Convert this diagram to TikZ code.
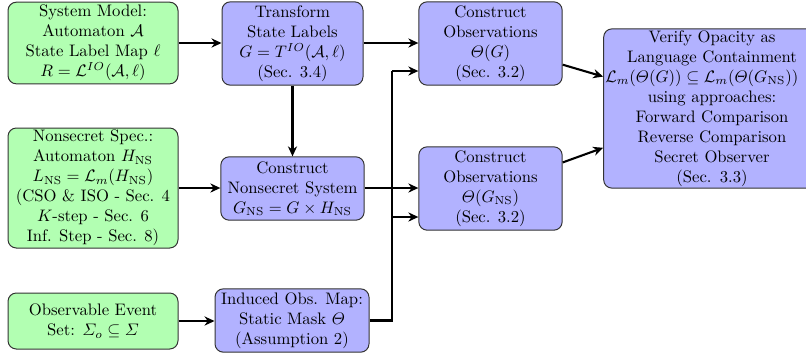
\documentclass[tikz,border=0pt]{standalone}
\usepackage{amsmath}
\usetikzlibrary{arrows.meta}
\begin{document}
\begin{tikzpicture}[x=0.6pt,y=-0.6pt,
  box/.style={draw=black!80, rounded corners=5pt, align=center, inner xsep=2pt, inner ysep=1pt, line width=0.6pt},
  inbox/.style={box, fill=green!30},
  procbox/.style={box, fill=blue!30},
  conn/.style={line width=1.25pt, -{Stealth[length=6pt,width=5.5pt]}},
  wire/.style={line width=1.25pt}]
\useasboundingbox (0,0) rectangle (806,360);
% inputs
\node[inbox, minimum width=102pt, minimum height=49pt] (sys) at (93,43)
  {System Model:\\ Automaton $\mathcal{A}$\\ State Label Map $\ell$\\ $R = \mathcal{L}^{IO}(\mathcal{A},\ell)$};
\node[inbox, minimum width=102pt, minimum height=72pt] (ns) at (93,188)
  {Nonsecret Spec.:\\ Automaton $H_{\mathrm{NS}}$\\ $L_{\mathrm{NS}} = \mathcal{L}_m(H_{\mathrm{NS}})$\\ (CSO \& ISO - Sec. 4\\ $K$-step - Sec. 6\\ Inf. Step - Sec. 8)};
\node[inbox, minimum width=102pt, minimum height=33.6pt] (obs) at (93,321)
  {Observable Event\\ Set: $\varSigma_o \subseteq \varSigma$};
% processing
\node[procbox, minimum width=84.6pt, minimum height=50pt] (tr) at (292.5,43.5)
  {Transform\\ State Labels\\ $G = T^{IO}(\mathcal{A},\ell)$\\ (Sec. 3.4)};
\node[procbox, minimum width=86pt, minimum height=38pt] (cn) at (292.5,188.5)
  {Construct\\ Nonsecret System\\ $G_{\mathrm{NS}} = G \times H_{\mathrm{NS}}$};
\node[procbox, minimum width=92.4pt, minimum height=38pt] (ind) at (292,320.5)
  {Induced Obs. Map:\\ Static Mask $\varTheta$\\ (Assumption 2)};
\node[procbox, minimum width=86pt, minimum height=50pt] (co1) at (490.5,43.5)
  {Construct\\ Observations\\ $\varTheta(G)$\\ (Sec. 3.2)};
\node[procbox, minimum width=86pt, minimum height=50pt] (co2) at (490.5,188.5)
  {Construct\\ Observations\\ $\varTheta(G_{\mathrm{NS}})$\\ (Sec. 3.2)};
\node[procbox, text width=128pt, inner xsep=1pt, minimum height=95pt] (ver) at (712,108.5)
  {Verify Opacity as\\ Language Containment\\ \makebox[\linewidth][l]{$\mathcal{L}_m(\varTheta(G)) \subseteq \mathcal{L}_m(\varTheta(G_{\mathrm{NS}}))$}\\ using approaches:\\ Forward Comparison\\ Reverse Comparison\\ Secret Observer\\ (Sec. 3.3)};
% connectors
\draw[conn] (sys.east |- 0,43) -- (tr.west |- 0,43);
\draw[conn] (tr.east |- 0,43) -- (co1.west |- 0,43);
\draw[conn] (tr.south) -- (cn.north);
\draw[conn] (ns.east |- 0,188) -- (cn.west |- 0,188);
\draw[conn] (cn.east |- 0,188) -- (co2.west |- 0,188);
\draw[conn] (obs.east |- 0,321) -- (ind.west |- 0,321);
\coordinate (mtop) at (392,71);
\coordinate (mmid) at (392,217);
\coordinate (mbot) at (392,320.5);
\draw[wire] (ind.east |- mbot) -- (mbot) -- (mtop);
\draw[conn] (mtop) -- (co1.west |- mtop);
\draw[conn] (mmid) -- (co2.west |- mmid);
\draw[conn] (co1) -- (ver);
\draw[conn] (co2) -- (ver);
\end{tikzpicture}
\end{document}
